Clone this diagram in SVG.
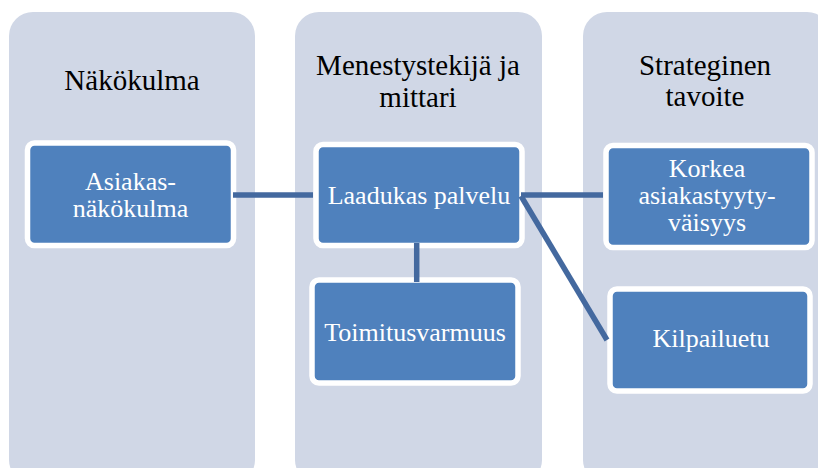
<svg xmlns="http://www.w3.org/2000/svg" width="818" height="468" viewBox="0 0 818 468">
<style>
.col{fill:#D0D7E6;}
.node{fill:#4F81BD;stroke:#FFFFFF;stroke-width:5.5;}
.title{font-family:"Liberation Serif","Times New Roman",serif;font-size:29px;fill:#000000;text-anchor:middle;}
.label{font-family:"Liberation Serif","Times New Roman",serif;font-size:26px;fill:#FFFFFF;text-anchor:middle;}
.conn{stroke:#44699F;stroke-width:5.5;fill:none;}
</style>
<g id="col1"><rect class="col" x="9" y="12" width="246" height="472" rx="24"/><text class="title" x="132" y="90">Näkökulma</text></g>
<g id="col2"><rect class="col" x="295" y="12" width="247" height="472" rx="24"/><text class="title" x="418" y="75">Menestystekijä ja</text><text class="title" x="418" y="107">mittari</text></g>
<g id="col3"><rect class="col" x="583" y="12" width="248" height="472" rx="24"/><text class="title" x="705" y="75">Strateginen</text><text class="title" x="705" y="106">tavoite</text></g>
<g id="n-asiakas"><rect class="node" x="27.5" y="143" width="206" height="102.5" rx="7"/><text class="label" x="130.5" y="190">Asiakas-</text><text class="label" x="130.5" y="217">näkökulma</text></g>
<g id="n-laadukas"><rect class="node" x="316" y="144.5" width="206" height="101" rx="7"/><text class="label" x="419" y="204">Laadukas palvelu</text></g>
<g id="n-toimitus"><rect class="node" x="312" y="280" width="206" height="103" rx="7"/><text class="label" x="415" y="341">Toimitusvarmuus</text></g>
<g id="n-korkea"><rect class="node" x="606" y="145.5" width="206" height="102" rx="7"/><text class="label" x="707" y="177">Korkea</text><text class="label" x="707" y="204" font-size="25.5">asiakastyyty-</text><text class="label" x="707" y="231">väisyys</text></g>
<g id="n-kilpailu"><rect class="node" x="610" y="289" width="200" height="102" rx="7"/><text class="label" x="711" y="347">Kilpailuetu</text></g>
<g id="connectors">
<line class="conn" x1="233" y1="195" x2="313" y2="195"/>
<line class="conn" x1="521" y1="195" x2="603" y2="195"/>
<line class="conn" x1="521" y1="196" x2="607" y2="340"/>
<line class="conn" x1="416.7" y1="243" x2="416.7" y2="282"/>
</g>
</svg>
